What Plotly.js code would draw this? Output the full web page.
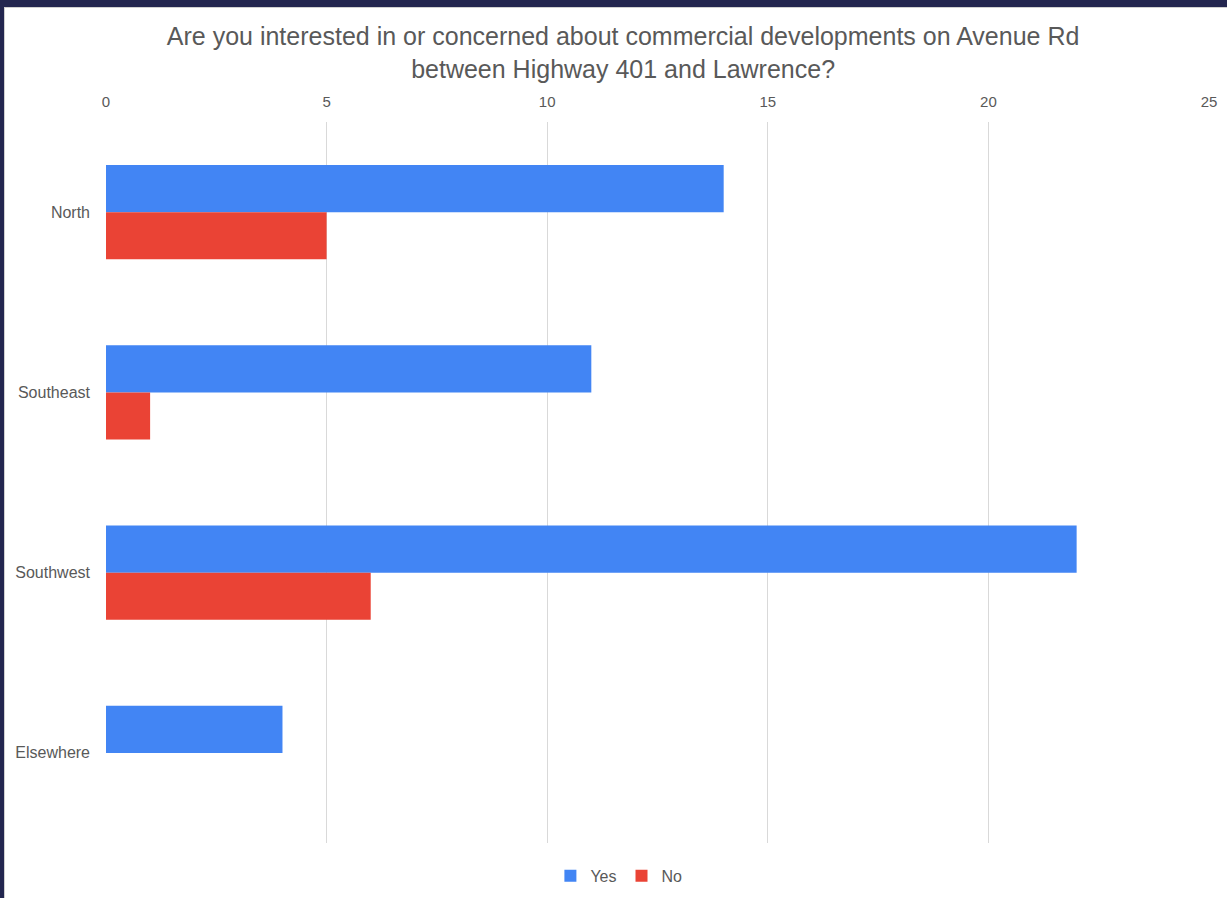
<!DOCTYPE html>
<html>
<head>
<meta charset="utf-8">
<script src="https://cdn.plot.ly/plotly-3.0.1.min.js"></script>
<style>
html, body { margin: 0; padding: 0; background: #23264f; width: 1227px; height: 898px; overflow: hidden; }
#frame { position: absolute; left: 4px; top: 7px; width: 1223px; height: 891px; background: #ffffff; border-left: 1px solid #d0d0d0; border-top: 1px solid #d0d0d0; }
#chart { position: absolute; left: 1px; top: 1px; width: 1222px; height: 890px; }
</style>
</head>
<body>
<div id="frame"><div id="chart"></div></div>
<script>
const categories = ["North", "Southeast", "Southwest", "Elsewhere"];
const yesValues = [14, 11, 22, 4];
const noValues = [5, 1, 6, 0];
const xTicks = [0, 5, 10, 15, 20, 25];

const traces = [
  { type: "bar", orientation: "h", name: "Yes", y: categories, x: yesValues,
    marker: { color: "#4285f4" }, hoverinfo: "x+name" },
  { type: "bar", orientation: "h", name: "No", y: categories, x: noValues,
    marker: { color: "#ea4335" }, hoverinfo: "x+name" }
];

const layout = {
  width: 1222, height: 890,
  margin: { l: 100, r: 19, t: 113, b: 56, autoexpand: false },
  paper_bgcolor: "#ffffff", plot_bgcolor: "#ffffff",
  font: { family: "Liberation Sans, Arial, sans-serif", color: "#595959" },
  title: {
    text: "Are you interested in or concerned about commercial developments on Avenue Rd<br>between Highway 401 and Lawrence?",
    font: { size: 25, color: "#595959" },
    xref: "container", x: 0.505, xanchor: "center",
    yref: "container", y: 0.959, yanchor: "top"
  },
  barmode: "group",
  bargap: 0.478,
  bargroupgap: 0,
  xaxis: {
    side: "top", range: [0, 25], tickvals: xTicks, ticktext: xTicks.map(String),
    showgrid: true, gridcolor: "#d9d9d9", gridwidth: 1, zeroline: false,
    showline: false, ticks: "", tickfont: { size: 15, color: "#595959" },
    ticklabelstandoff: 11, fixedrange: true
  },
  yaxis: {
    type: "category", autorange: "reversed", showgrid: false, zeroline: false,
    showline: false, ticks: "", tickfont: { size: 16, color: "#595959" },
    ticklabelstandoff: 15, fixedrange: true
  },
  showlegend: true,
  legend: {
    orientation: "h", xref: "paper", x: 0.465, xanchor: "center",
    yref: "container", y: 0.026, yanchor: "middle",
    font: { size: 16, color: "#595959" }, itemwidth: 30,
    traceorder: "normal"
  }
};

Plotly.newPlot("chart", traces, layout, { displayModeBar: false, staticPlot: true });
</script>
</body>
</html>
